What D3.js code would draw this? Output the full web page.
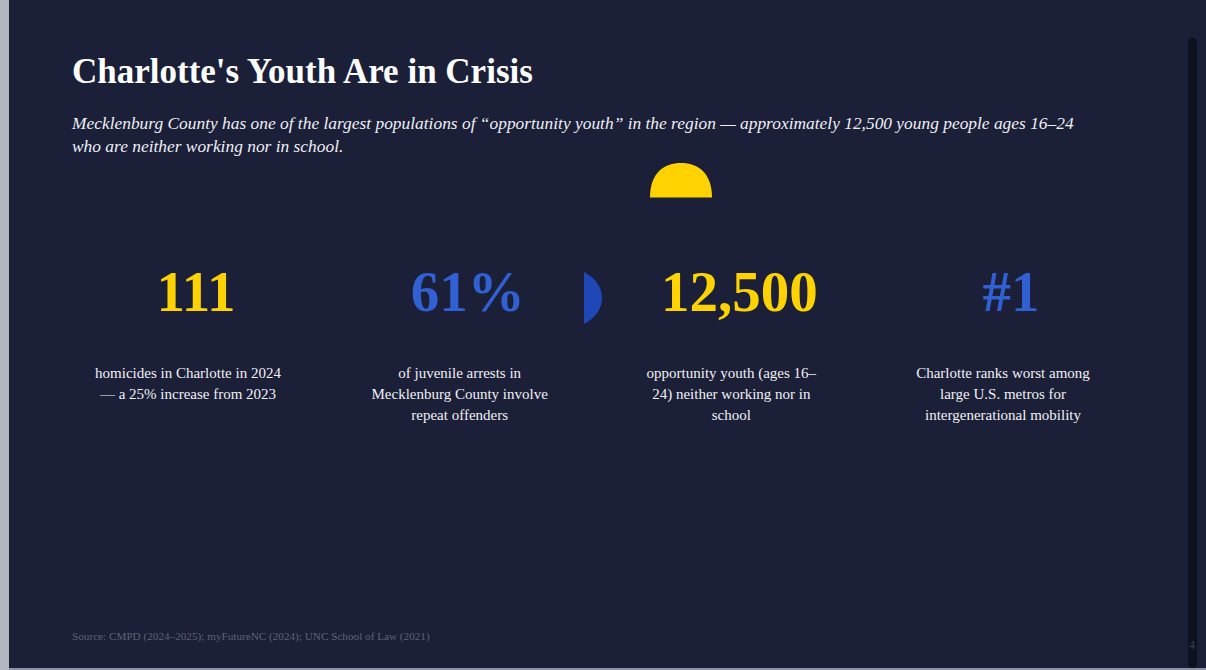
<!DOCTYPE html>
<html>
<head>
<meta charset="utf-8">
<script src="https://cdn.jsdelivr.net/npm/d3@7"></script>
<style>
  html, body { margin: 0; padding: 0; background: #1b1f37; overflow: hidden; }
  svg { display: block; }
  text { font-family: "Liberation Serif", "Times New Roman", serif; }
</style>
</head>
<body>
<svg id="chart" width="1206" height="670"></svg>
<script>
// ---- data ----
const titleText = "Charlotte's Youth Are in Crisis";
const subtitleLines = [
  "Mecklenburg County has one of the largest populations of \u201copportunity youth\u201d in the region \u2014 approximately 12,500 young people ages 16\u201324",
  "who are neither working nor in school."
];
const categories = ["homicides", "repeat", "opportunity", "mobility"];
const statValues = ["111", "61%", "12,500", "#1"];
const statTone = ["yellow", "blue", "yellow", "blue"];
const descLines = [
  ["homicides in Charlotte in 2024", "\u2014 a 25% increase from 2023"],
  ["of juvenile arrests in", "Mecklenburg County involve", "repeat offenders"],
  ["opportunity youth (ages 16\u2013", "24) neither working nor in", "school"],
  ["Charlotte ranks worst among", "large U.S. metros for", "intergenerational mobility"]
];
const sourceText = "Source: CMPD (2024\u20132025); myFutureNC (2024); UNC School of Law (2021)";
const pageNumber = "4";

// ---- styles ----
const W = 1206, H = 670;
const colors = { bg: "#1b1f37", yellow: "#ffd200", blue: "#3060d2", blueShape: "#1f47b6", white: "#ffffff" };

const svg = d3.select("#chart");

// background
svg.append("rect").attr("width", W).attr("height", H).attr("fill", colors.bg);
// left grey strip & bottom line
svg.append("rect").attr("x", 0).attr("y", 0).attr("width", 9).attr("height", H).attr("fill", "#b2b7c0");
svg.append("rect").attr("x", 9).attr("y", 668).attr("width", W - 9).attr("height", 2).attr("fill", "#8e94a6");
// scrollbar
svg.append("rect").attr("x", 1188).attr("y", 38).attr("width", 9).attr("height", H - 38 - 2)
  .attr("rx", 4.5).attr("fill", "#0e111e");
svg.append("text").attr("x", 1192).attr("y", 649).attr("text-anchor", "middle")
  .attr("font-size", 12).attr("fill", "#3b405a").text(pageNumber);

// title & subtitle
svg.append("text").attr("x", 72).attr("y", 83).attr("font-size", 35).attr("font-weight", "bold")
  .attr("fill", colors.white).text(titleText);
svg.append("g").selectAll("text").data(subtitleLines).join("text")
  .attr("x", 72).attr("y", (d, i) => 129 + i * 23)
  .attr("font-size", 17.4).attr("font-style", "italic").attr("fill", "#eef0f6")
  .text(d => d);

// decorative half shapes
const yellowArc = d3.path();
yellowArc.moveTo(650, 197.5);
yellowArc.bezierCurveTo(650, 173, 664, 163, 681, 163);
yellowArc.bezierCurveTo(698, 163, 712, 173, 712, 197.5);
yellowArc.closePath();
svg.append("path").attr("d", yellowArc.toString()).attr("fill", colors.yellow);

const blueArc = d3.path();
blueArc.moveTo(584, 272);
blueArc.bezierCurveTo(596, 278, 602, 288, 602, 298);
blueArc.bezierCurveTo(602, 308, 596, 318, 584, 324);
blueArc.closePath();
svg.append("path").attr("d", blueArc.toString()).attr("fill", colors.blueShape);

// stat columns
const x = d3.scalePoint().domain(categories).range([188, 1003]);
const stats = categories.map((c, i) => ({ c, value: statValues[i], tone: statTone[i], lines: descLines[i] }));

const col = svg.append("g").selectAll("g").data(stats).join("g")
  .attr("transform", d => `translate(${x(d.c)},0)`);

col.append("text").attr("x", 8).attr("y", 311).attr("text-anchor", "middle")
  .attr("font-size", 57).attr("font-weight", "bold")
  .attr("fill", d => colors[d.tone]).text(d => d.value);

col.each(function(d) {
  d3.select(this).selectAll("text.desc").data(d.lines).join("text")
    .attr("class", "desc")
    .attr("x", 0).attr("y", (l, i) => 378 + i * 21)
    .attr("text-anchor", "middle").attr("font-size", 15).attr("fill", "#f0f1f5")
    .text(l => l);
});

// source
svg.append("text").attr("x", 72).attr("y", 640).attr("font-size", 11.2)
  .attr("fill", "#5e6379").text(sourceText);
</script>
</body>
</html>
